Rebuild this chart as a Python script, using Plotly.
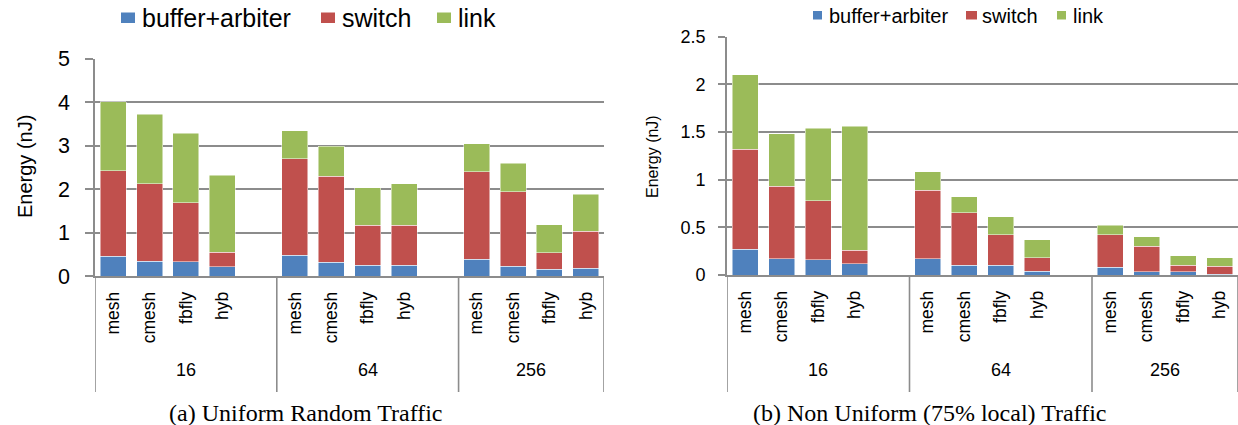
import plotly.graph_objects as go

W, H = 1238, 425

groups = ["16", "64", "256"]
topologies = ["mesh", "cmesh", "fbfly", "hyb"]
series_names = ["buffer+arbiter", "switch", "link"]
series_colors = ["#4F81BD", "#C0504D", "#9BBB59"]

# (a) Uniform Random Traffic  (stacked segment values, nJ)
a_buffer = [0.46, 0.34, 0.33, 0.21, 0.48, 0.32, 0.25, 0.25, 0.38, 0.23, 0.15, 0.18]
a_switch = [1.96, 1.78, 1.36, 0.34, 2.22, 1.97, 0.92, 0.92, 2.02, 1.71, 0.39, 0.85]
a_link = [1.59, 1.60, 1.59, 1.77, 0.64, 0.69, 0.86, 0.95, 0.64, 0.66, 0.64, 0.85]

# (b) Non Uniform (75% local) Traffic
b_buffer = [0.27, 0.17, 0.16, 0.12, 0.17, 0.10, 0.10, 0.04, 0.08, 0.035, 0.035, 0.01]
b_switch = [1.05, 0.76, 0.62, 0.14, 0.72, 0.55, 0.32, 0.14, 0.34, 0.265, 0.065, 0.08]
b_link = [0.78, 0.55, 0.76, 1.30, 0.19, 0.17, 0.19, 0.19, 0.10, 0.10, 0.10, 0.09]

captions = ["(a) Uniform Random Traffic", "(b) Non Uniform (75% local) Traffic"]
y_title = "Energy (nJ)"

SANS = "Liberation Sans, Arial, Helvetica, sans-serif"
SERIF = "Liberation Serif, Times New Roman, serif"
GRID = "#8c8c8c"

# x positions: 5 slots per group (4 bars + 1 spacer)
xpos = [gi * 5 + ti for gi in range(len(groups)) for ti in range(len(topologies))]
xtext = [t for _ in groups for t in topologies]
group_centers = [2.0, 7.0, 11.5]
dividers = [-0.5, 4.5, 9.5, 13.5]


def px(x):
    return x / W


def py(y):
    return 1 - y / H


fig = go.Figure()

for vals, xa, ya in [((a_buffer, a_switch, a_link), "x", "y"), ((b_buffer, b_switch, b_link), "x2", "y2")]:
    for name, color, v in zip(series_names, series_colors, vals):
        fig.add_trace(go.Bar(
            x=xpos, y=v, name=name, xaxis=xa, yaxis=ya,
            marker=dict(color=color, line=dict(color="rgba(255,255,255,0.7)", width=0.7)),
            showlegend=False,
        ))

shapes = []
annotations = []

panels = [
    dict(xa="x", y0=276, catfont=18, title_x=25, title_y=167, title_size=20, cap_x=306,
         leg=[(121, 135, 12.5, 23, 140), (321, 335, 12.5, 23, 340), (437, 451, 12.5, 23, 456)],
         leg_size=25, leg_y=18),
    dict(xa="x2", y0=275, catfont=18, title_x=652, title_y=157, title_size=16, cap_x=929,
         leg=[(813, 822, 11, 19.5, 827), (966, 977, 11, 19.5, 980), (1057, 1066, 11, 19.5, 1071)],
         leg_size=20, leg_y=15.5),
]

for p, cap in zip(panels, captions):
    for d in dividers:
        shapes.append(dict(type="line", xref=p["xa"], yref="paper", x0=d, x1=d,
                           y0=py(p["y0"]), y1=py(392), line=dict(color=GRID, width=1.6)))
    for g, c in zip(groups, group_centers):
        annotations.append(dict(text=g, xref=p["xa"], yref="paper", x=c, y=py(370),
                                showarrow=False, xanchor="center", yanchor="middle",
                                font=dict(family=SANS, size=p["catfont"], color="black")))
    annotations.append(dict(text=y_title, xref="paper", yref="paper", x=px(p["title_x"]), y=py(p["title_y"]),
                            showarrow=False, textangle=-90, xanchor="center", yanchor="middle",
                            font=dict(family=SANS, size=p["title_size"], color="black")))
    annotations.append(dict(text=cap, xref="paper", yref="paper", x=px(p["cap_x"]), y=py(413),
                            showarrow=False, xanchor="center", yanchor="middle",
                            font=dict(family=SERIF, size=24, color="black")))
    for (lx0, lx1, ly0, ly1, tx), name, color in zip(p["leg"], series_names, series_colors):
        shapes.append(dict(type="rect", xref="paper", yref="paper", x0=px(lx0), x1=px(lx1),
                           y0=py(ly1), y1=py(ly0), fillcolor=color, line=dict(width=0)))
        annotations.append(dict(text=name, xref="paper", yref="paper", x=px(tx), y=py(p["leg_y"]),
                                showarrow=False, xanchor="left", yanchor="middle",
                                font=dict(family=SANS, size=p["leg_size"], color="black")))

common_x = dict(range=[-0.5, 13.5], tickmode="array", tickvals=xpos, ticktext=xtext, tickangle=-90,
                showgrid=False, zeroline=False, showline=True, linecolor=GRID, linewidth=1.6,
                ticks="", ticklabelstandoff=7, fixedrange=True, automargin=False,
                tickfont=dict(size=17.5, color="black"))
common_y = dict(showgrid=True, gridcolor=GRID, gridwidth=1.6, zeroline=False, showline=True,
                linecolor=GRID, linewidth=1.6, ticks="outside", tickcolor=GRID, tickwidth=1.6,
                fixedrange=True, automargin=False)

fig.update_layout(
    template="none",
    width=W, height=H,
    margin=dict(l=0, r=0, t=0, b=0, pad=0, autoexpand=False),
    paper_bgcolor="white", plot_bgcolor="white",
    barmode="stack", bargap=0.285,
    font=dict(family=SANS, color="black"),
    xaxis=dict(domain=[px(95), px(604)], anchor="y", **common_x),
    yaxis=dict(domain=[py(276), py(58.7)], anchor="x", range=[0, 5], dtick=1, ticklen=8,
               ticklabelstandoff=11, tickfont=dict(size=21.5, color="black"), **common_y),
    xaxis2=dict(domain=[px(727), 1.0], anchor="y2", **common_x),
    yaxis2=dict(domain=[py(275), py(36.5)], anchor="x2", range=[0, 2.5], dtick=0.5, ticklen=7,
                ticklabelstandoff=9, tickfont=dict(size=18, color="black"), **common_y),
    shapes=shapes,
    annotations=annotations,
)

fig.write_html(
    "out.html",
    config={"displayModeBar": False},
    post_script=(
        "document.body.style.margin='0';"
        "document.body.style.overflow='hidden';"
        "document.documentElement.style.overflow='hidden';"
    ),
)
